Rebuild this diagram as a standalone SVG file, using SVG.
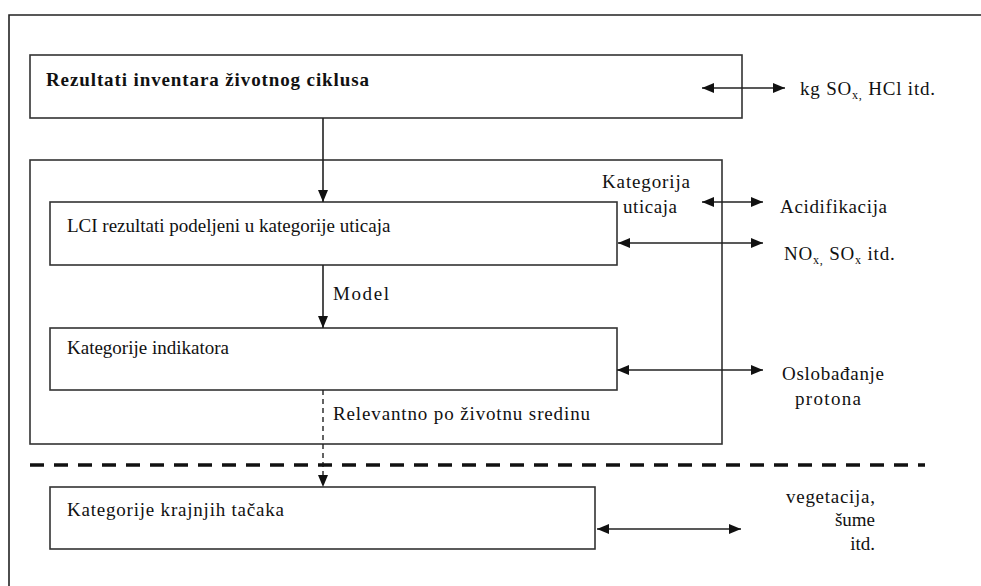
<svg xmlns="http://www.w3.org/2000/svg" width="981" height="586" viewBox="0 0 981 586">
  <style>
    .box { fill: #fff; stroke: #333; stroke-width: 1.6; }
    .ln { fill: none; stroke: #222; stroke-width: 1.6; }
    .dash { fill: none; stroke: #222; stroke-width: 1.4; stroke-dasharray: 5 4; }
    .sep { fill: none; stroke: #111; stroke-width: 3.5; stroke-dasharray: 14 10; }
    .t { font-family: 'Liberation Serif', 'DejaVu Serif', serif; font-size: 19px; fill: #111; }
    .b { font-weight: bold; }
    .w { letter-spacing: 0.8px; }
    .sub { font-size: 12px; }
  </style>
  <defs>
    <marker id="ah" viewBox="0 0 12 10" refX="12" refY="5" markerWidth="12" markerHeight="10" markerUnits="userSpaceOnUse" orient="auto-start-reverse">
      <path d="M0,0 L12,5 L0,10 z" fill="#111"/>
    </marker>
  </defs>

  <!-- outer frame (left and top edges) -->
  <path class="ln" d="M9,586 V15 H981"/>

  <g id="inventory">
    <rect class="box" x="30" y="55" width="712" height="63"/>
    <text class="t b" x="46" y="86" textLength="323" lengthAdjust="spacing">Rezultati inventara životnog ciklusa</text>
  </g>

  <g id="impact-frame">
    <rect class="box" x="30" y="160" width="692" height="284"/>
    <text class="t" x="602" y="188" textLength="88" lengthAdjust="spacing">Kategorija</text>
    <text class="t" x="623" y="213" textLength="54" lengthAdjust="spacing">uticaja</text>
  </g>

  <g id="lci-classified">
    <rect class="box" x="50" y="202" width="567" height="63"/>
    <text class="t" x="67" y="232">LCI rezultati podeljeni u kategorije uticaja</text>
  </g>

  <g id="indicators">
    <rect class="box" x="50" y="328" width="567" height="62"/>
    <text class="t" x="67" y="354">Kategorije indikatora</text>
  </g>

  <g id="endpoints">
    <rect class="box" x="50" y="487" width="545" height="62"/>
    <text class="t" x="67" y="516" textLength="217" lengthAdjust="spacing">Kategorije krajnjih tačaka</text>
  </g>

  <g id="side-labels">
    <text class="t w" x="800" y="95">kg SO<tspan class="sub" dy="4">x,</tspan><tspan dy="-4"> HCl itd.</tspan></text>
    <text class="t" x="780" y="213" textLength="107" lengthAdjust="spacing">Acidifikacija</text>
    <text class="t w" x="784" y="260">NO<tspan class="sub" dy="4">x,</tspan><tspan dy="-4"> SO</tspan><tspan class="sub" dy="4">x</tspan><tspan dy="-4"> itd.</tspan></text>
    <text class="t" x="782" y="380" textLength="102" lengthAdjust="spacing">Oslobađanje</text>
    <text class="t" x="795" y="405" textLength="66" lengthAdjust="spacing">protona</text>
    <text class="t" x="786" y="503" textLength="89" lengthAdjust="spacing">vegetacija,</text>
    <text class="t" x="875" y="526" text-anchor="end">šume</text>
    <text class="t" x="875" y="550" text-anchor="end">itd.</text>
    <text class="t" x="333" y="300" textLength="56" lengthAdjust="spacing">Model</text>
    <text class="t" x="333" y="420" textLength="257" lengthAdjust="spacing">Relevantno po životnu sredinu</text>
  </g>

  <g id="connectors">
    <path class="ln" d="M323,118 V202" marker-end="url(#ah)"/>
    <path class="ln" d="M323,265 V328" marker-end="url(#ah)"/>
    <path class="dash" d="M323,390 V475"/>
    <path d="M318,475 L328,475 L323,487 z" fill="#111"/>
    <path class="sep" d="M30,465 H925"/>
    <path class="ln" d="M702,88 H785" marker-start="url(#ah)" marker-end="url(#ah)"/>
    <path class="ln" d="M702,202 H763" marker-start="url(#ah)" marker-end="url(#ah)"/>
    <path class="ln" d="M618,243 H763" marker-start="url(#ah)" marker-end="url(#ah)"/>
    <path class="ln" d="M617,370 H763" marker-start="url(#ah)" marker-end="url(#ah)"/>
    <path class="ln" d="M597,529 H741" marker-start="url(#ah)" marker-end="url(#ah)"/>
  </g>
</svg>
